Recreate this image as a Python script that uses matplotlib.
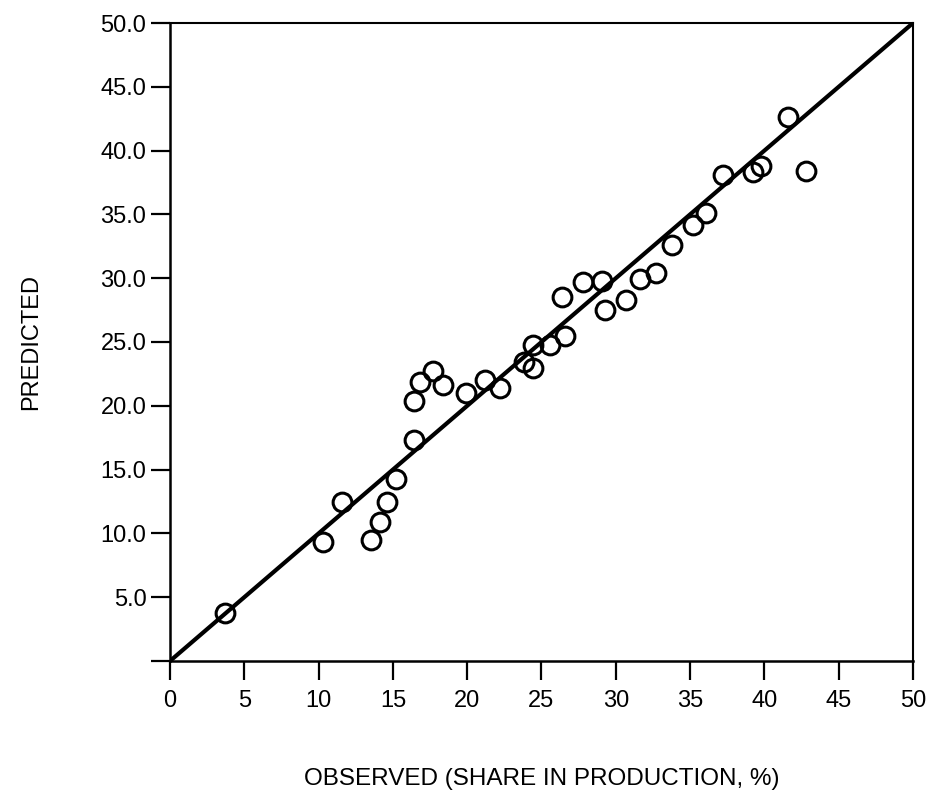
import matplotlib
matplotlib.use("Agg")
import matplotlib.pyplot as plt

plt.rcParams['font.family'] = ['Liberation Sans', 'DejaVu Sans']

observed = [3.7, 10.3, 11.6, 13.5, 14.1, 14.6, 15.2, 16.4, 16.4, 16.8, 17.7, 18.4,
            19.9, 21.2, 22.2, 23.8, 24.4, 24.4, 25.6, 26.6, 26.4, 27.8, 29.1, 29.3,
            30.7, 31.6, 32.7, 33.8, 35.2, 36.1, 37.2, 39.2, 39.8, 41.6, 42.8]
predicted = [3.8, 9.3, 12.5, 9.5, 10.9, 12.5, 14.3, 17.3, 20.4, 21.9, 22.7, 21.6,
             21.0, 22.0, 21.4, 23.4, 23.0, 24.8, 24.8, 25.5, 28.5, 29.7, 29.8, 27.5,
             28.3, 29.9, 30.4, 32.6, 34.2, 35.1, 38.1, 38.3, 38.8, 42.6, 38.4]
line_x = [0, 50]
line_y = [0, 50]
x_ticks = [0, 5, 10, 15, 20, 25, 30, 35, 40, 45, 50]
x_labels = ['0', '5', '10', '15', '20', '25', '30', '35', '40', '45', '50']
y_ticks = [0, 5, 10, 15, 20, 25, 30, 35, 40, 45, 50]
y_labels = ['', '5.0', '10.0', '15.0', '20.0', '25.0', '30.0', '35.0', '40.0', '45.0', '50.0']

fig = plt.figure(figsize=(9.29, 7.92), dpi=100)
ax = fig.add_axes([170/929, 1-661/792, (913-170)/929, (661-23)/792])

ax.plot(line_x, line_y, color='black', lw=3.0, solid_capstyle='butt', zorder=2)
ax.plot(observed, predicted, linestyle='none', marker='o', markersize=13.5,
        markerfacecolor='none', markeredgecolor='black', markeredgewidth=2.2, zorder=3)

ax.set_xlim(0, 50)
ax.set_ylim(0, 50)
ax.set_xticks(x_ticks)
ax.set_xticklabels(x_labels)
ax.set_yticks(y_ticks)
ax.set_yticklabels(y_labels)
ax.tick_params(direction='out', length=14, width=1.6, labelsize=17, color='black')
ax.tick_params(axis='x', pad=7)
ax.tick_params(axis='y', pad=3)
for s in ax.spines.values():
    s.set_linewidth(1.5)
ax.spines['bottom'].set_linewidth(1.8)
ax.spines['left'].set_linewidth(1.8)

ax.set_xlabel('OBSERVED (SHARE IN PRODUCTION, %)', fontsize=17.5, labelpad=40)
ax.set_ylabel('PREDICTED', fontsize=17, labelpad=42)

fig.savefig('out.png', dpi=100, facecolor='white')
